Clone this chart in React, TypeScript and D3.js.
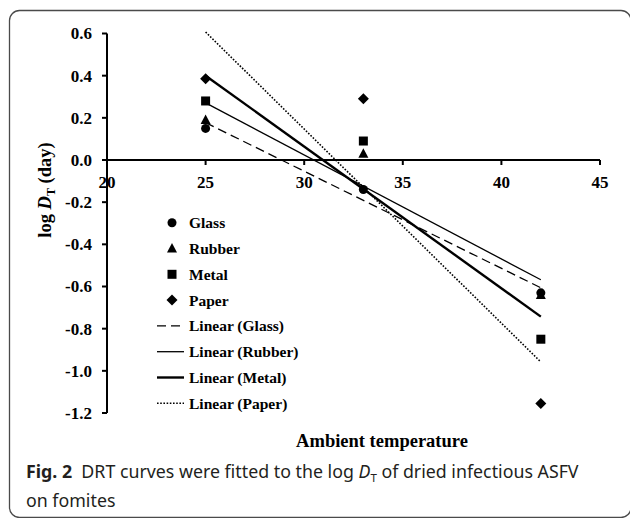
import React from "react";
import * as d3 from "d3";

const temps = [25, 33, 42];
const glass = [0.15, -0.14, -0.63];
const rubber = [0.19, 0.03, -0.64];
const metal = [0.28, 0.09, -0.85];
const paper = [0.385, 0.29, -1.155];
// fitted trend-line endpoints (at 25 and 42)
const fitX = [25, 42];
const glassFit = [0.177, -0.606];
const rubberFit = [0.271, -0.568];
const metalFit = [0.4, -0.743];
const paperFit = [0.607, -0.958];
const xTicks = [20, 25, 30, 35, 40, 45];
const yTicks = [0.6, 0.4, 0.2, 0.0, -0.2, -0.4, -0.6, -0.8, -1.0, -1.2];
const seriesNames = ["Glass", "Rubber", "Metal", "Paper"];

const W = 630;
const H = 518;
const x = d3.scaleLinear().domain([20, 45]).range([107, 600]);
const y = d3.scaleLinear().domain([-1.2, 0.6]).range([413, 33.5]);

const serif = "'Liberation Serif', 'Times New Roman', serif";
const sans = "'Noto Sans', 'Open Sans', sans-serif";

function Marker({ kind, cx, cy }: { kind: string; cx: number; cy: number }) {
  if (kind === "Glass") return <circle cx={cx} cy={cy} r={4.5} fill="#000" />;
  if (kind === "Rubber")
    return <path d={`M${cx},${cy - 5.5}L${cx + 5},${cy + 4}L${cx - 5},${cy + 4}Z`} fill="#000" />;
  if (kind === "Metal") return <rect x={cx - 4.5} y={cy - 4.5} width={9} height={9} fill="#000" />;
  return <path d={`M${cx},${cy - 5.5}L${cx + 5.5},${cy}L${cx},${cy + 5.5}L${cx - 5.5},${cy}Z`} fill="#000" />;
}

export default function App() {
  const data = [glass, rubber, metal, paper];
  const fits = [glassFit, rubberFit, metalFit, paperFit];
  const lineStyles = [
    { w: 1.3, dash: "9,5" },
    { w: 1.3, dash: "" },
    { w: 2.4, dash: "" },
    { w: 1.6, dash: "1.6,1.6" },
  ];
  const line = d3
    .line<number>()
    .x((_, i) => x(fitX[i]))
    .y((d) => y(d));
  const legendX = 172;
  const legendY0 = 222.7;
  const legendStep = 25.8;
  return (
    <svg
      width={W}
      height={H}
      style={{ position: "absolute", left: 0, top: 0, background: "#fff" }}
    >
      <rect x={9.5} y={10.5} width={621.5} height={507} rx={10} fill="none" stroke="#4a4a4a" strokeWidth={1.3} />
      {/* axes */}
      <line x1={x(20)} x2={x(20)} y1={y(0.6)} y2={y(-1.2)} stroke="#000" strokeWidth={2} />
      <line x1={x(20)} x2={x(45)} y1={y(0)} y2={y(0)} stroke="#000" strokeWidth={2} />
      {yTicks.map((t) => (
        <g key={"y" + t}>
          <line x1={x(20) - 5} x2={x(20)} y1={y(t)} y2={y(t)} stroke="#000" strokeWidth={2} />
          <text
            x={92}
            y={y(t)}
            dy="0.35em"
            textAnchor="end"
            fontFamily={serif}
            fontWeight="bold"
            fontSize={17}
          >
            {t.toFixed(1)}
          </text>
        </g>
      ))}
      {xTicks.map((t) => (
        <g key={"x" + t}>
          <line x1={x(t)} x2={x(t)} y1={y(0)} y2={y(0) + 5} stroke="#000" strokeWidth={2} />
          <text
            x={x(t)}
            y={187.5}
            textAnchor="middle"
            fontFamily={serif}
            fontWeight="bold"
            fontSize={17}
          >
            {t}
          </text>
        </g>
      ))}
      {/* trend lines */}
      {fits.map((f, i) => (
        <path
          key={"f" + i}
          d={line(f) || ""}
          fill="none"
          stroke="#000"
          strokeWidth={lineStyles[i].w}
          strokeDasharray={lineStyles[i].dash || undefined}
        />
      ))}
      {/* points */}
      {data.map((s, i) =>
        s.map((v, j) => <Marker key={`m${i}-${j}`} kind={seriesNames[i]} cx={x(temps[j])} cy={y(v)} />)
      )}
      {/* legend */}
      {seriesNames.map((n, i) => (
        <g key={"lg" + n}>
          <Marker kind={n} cx={legendX} cy={legendY0 + i * legendStep} />
          <text
            x={189}
            y={legendY0 + i * legendStep}
            dy="0.35em"
            fontFamily={serif}
            fontWeight="bold"
            fontSize={15.5}
          >
            {n}
          </text>
        </g>
      ))}
      {seriesNames.map((n, i) => {
        const yy = legendY0 + (i + 4) * legendStep;
        return (
          <g key={"ll" + n}>
            <line
              x1={157}
              x2={184}
              y1={yy}
              y2={yy}
              stroke="#000"
              strokeWidth={lineStyles[i].w}
              strokeDasharray={lineStyles[i].dash || undefined}
            />
            <text x={189} y={yy} dy="0.35em" fontFamily={serif} fontWeight="bold" fontSize={15.5}>
              {`Linear (${n})`}
            </text>
          </g>
        );
      })}
      {/* axis titles */}
      <text
        transform="translate(51,190) rotate(-90)"
        textAnchor="middle"
        fontFamily={serif}
        fontWeight="bold"
        fontSize={18.5}
      >
        log <tspan fontStyle="italic">D</tspan>
        <tspan fontSize={12} dy={4}>T</tspan>
        <tspan dy={-4}> (day)</tspan>
      </text>
      <text x={382} y={447} textAnchor="middle" fontFamily={serif} fontWeight="bold" fontSize={18.5}>
        Ambient temperature
      </text>
      {/* caption */}
      <text x={26} y={478} fontFamily={sans} fontSize={17.8} fill="#231f20">
        <tspan fontWeight="bold">Fig. 2</tspan>
        <tspan>{"\u00a0\u00a0DRT curves were fitted to the log "}</tspan>
        <tspan fontStyle="italic">D</tspan>
        <tspan fontSize={11.5} dy={4}>T</tspan>
        <tspan dy={-4}>{" of dried infectious ASFV"}</tspan>
      </text>
      <text x={26} y={507} fontFamily={sans} fontSize={17.8} fill="#231f20">
        on fomites
      </text>
    </svg>
  );
}
